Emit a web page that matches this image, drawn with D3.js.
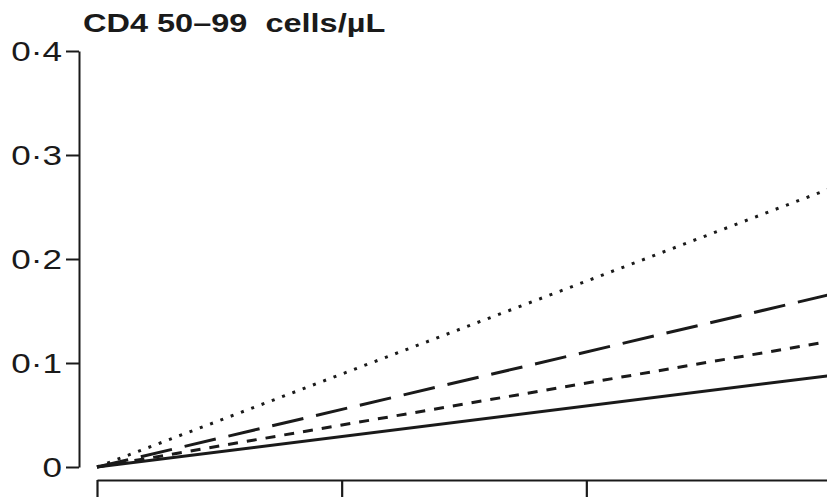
<!DOCTYPE html>
<html>
<head>
<meta charset="utf-8">
<script src="https://cdn.jsdelivr.net/npm/d3@7"></script>
<style>
  html, body { margin: 0; padding: 0; background: #fff; }
  svg { display: block; }
</style>
</head>
<body>
<svg id="chart" width="827" height="497"></svg>
<script>
// ---- Data ----
const title = "CD4 50\u201399  cells/\u00b5L";
const xValues = [0, 3];
const xTicks = [0, 1, 2, 3];
const yTicks = [0, 0.1, 0.2, 0.3, 0.4];
const seriesNames = ["solid", "shortDash", "longDash", "dotted"];
const solidValues = [0, 0.088];
const shortDashValues = [0, 0.121];
const longDashValues = [0, 0.166];
const dottedValues = [0, 0.268];

// ---- Styles ----
const dashStyles = {
  solid: null,
  shortDash: "10,9",
  longDash: "32,13",
  dotted: "3,8"
};
const seriesValues = {
  solid: solidValues,
  shortDash: shortDashValues,
  longDash: longDashValues,
  dotted: dottedValues
};

const svg = d3.select("#chart");
const SX = 1.3; // horizontal stretch of the original typography
const ink = "#1a1a1a";

const x = d3.scaleLinear().domain([0, 3]).range([97, 831]);
const y = d3.scaleLinear().domain([0, 0.4]).range([467, 51]);

// Y axis
const yAxis = d3.axisLeft(y)
  .tickValues(yTicks)
  .tickSize(13)
  .tickSizeOuter(0)
  .tickFormat(d => d === 0 ? "0" : d3.format(".1f")(d).replace(".", "\u00b7"));
const gy = svg.append("g").attr("transform", "translate(79,0)").call(yAxis);
gy.select(".domain").attr("stroke", ink).attr("stroke-width", 2);
gy.selectAll(".tick line").attr("stroke", ink).attr("stroke-width", 2);
gy.selectAll(".tick text")
  .attr("fill", ink)
  .attr("font-family", "'Liberation Sans', Arial, sans-serif")
  .attr("font-size", 27)
  .attr("x", -17 / SX)
  .attr("dy", "0.36em")
  .attr("transform", `scale(${SX},1)`);

// X axis
const xAxis = d3.axisBottom(x)
  .tickValues(xTicks)
  .tickSize(22)
  .tickSizeOuter(0)
  .tickFormat("");
const gx = svg.append("g").attr("transform", "translate(0,480)").call(xAxis);
gx.select(".domain").attr("stroke", ink).attr("stroke-width", 2.2);
gx.selectAll(".tick line").attr("stroke", ink).attr("stroke-width", 2.2);

// Lines
const line = d3.line()
  .x((d, i) => x(xValues[i]))
  .y(d => y(d));

seriesNames.forEach(name => {
  svg.append("path")
    .datum(seriesValues[name])
    .attr("d", line)
    .attr("fill", "none")
    .attr("stroke", ink)
    .attr("stroke-width", 3)
    .attr("stroke-dasharray", dashStyles[name]);
});

// Title
svg.append("text")
  .attr("transform", `translate(83,32) scale(${SX},1)`)
  .attr("font-family", "'Liberation Sans', Arial, sans-serif")
  .attr("font-weight", "bold")
  .attr("font-size", 25)
  .attr("fill", ink)
  .attr("xml:space", "preserve")
  .style("white-space", "pre")
  .text(title);
</script>
</body>
</html>
